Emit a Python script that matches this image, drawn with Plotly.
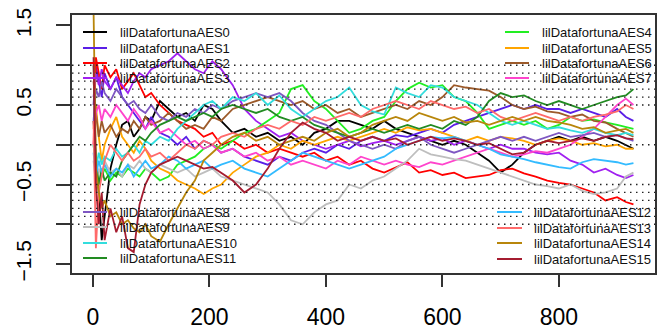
import plotly.graph_objects as go

# shared x positions (observation index)
x_index = [1, 5, 10, 15, 20, 30, 40, 50, 60, 70, 80, 90, 100, 115, 130, 145, 160, 175, 190, 205,
           220, 240, 260, 280, 300, 320, 340, 360, 380, 400, 420, 440, 460, 480, 500, 520, 540,
           560, 580, 600, 620, 640, 660, 680, 700, 720, 740, 760, 780, 800, 820, 840, 860, 880,
           900, 915, 928]

series_names = ["lilDatafortunaAES%d" % i for i in range(16)]

aes0 = [0.3, -0.2, -0.6, -1.2, -0.9, -0.3, 0.0, 0.25, 0.3, 0.1, 0.2, 0.35, 0.3, 0.55, 0.45, 0.35, 0.4, 0.3, 0.5, 0.45,
        0.3, 0.15, 0.2, 0.1, 0.15, 0.05, 0.1, 0.0, 0.15, 0.2, 0.3, 0.3, 0.25, 0.2, 0.3, 0.2, 0.15,
        0.1, 0.05, 0.0, 0.05, 0.0, -0.1, -0.2, -0.35, -0.25, -0.1, 0.0, 0.05, 0.1, 0.05, 0.1, 0.05, 0.1,
        0.05, 0.0, -0.05]
aes1 = [0.5, 1.0, 0.8, 0.6, 0.9, 0.7, 0.85, 0.6, 0.5, 0.4, 0.3, 0.2, 0.35, 0.15, 0.1, 0.0, 0.1, -0.05, 0.05, 0.0,
        -0.1, -0.05, -0.15, -0.2, -0.25, -0.15, -0.2, -0.1, -0.05, -0.1, 0.0, -0.05, 0.05, 0.1, 0.05, 0.12, 0.1,
        0.15, 0.2, 0.15, 0.25, 0.3, 0.35, 0.4, 0.45, 0.5, 0.45, 0.5, 0.45, 0.45, 0.4, 0.45, 0.4, 0.35,
        0.45, 0.35, 0.3]
aes2 = [0.0, 1.1, 0.9, 0.7, 1.0, 0.85, 0.95, 0.7, 0.8, 0.9, 0.75, 0.6, 0.65, 0.5, 0.4, 0.3, 0.25, 0.2, 0.1, 0.15,
        0.0, 0.05, -0.05, 0.0, -0.1, -0.05, -0.1, -0.15, -0.1, -0.2, -0.15, -0.25, -0.2, -0.3, -0.35, -0.28, -0.22,
        -0.35, -0.32, -0.38, -0.35, -0.42, -0.4, -0.38, -0.32, -0.3, -0.36, -0.4, -0.45, -0.48, -0.5, -0.55, -0.6, -0.7,
        -0.66, -0.72, -0.75]
aes3 = [0.6, 0.9, 0.75, 0.95, 0.8, 0.7, 0.85, 0.75, 0.65, 0.8, 0.9, 0.85, 0.95, 1.0, 1.05, 1.15, 1.05, 0.95, 0.9, 1.05,
        0.95, 0.75, 0.45, 0.3, 0.2, 0.1, 0.15, 0.05, 0.0, -0.05, 0.0, 0.05, -0.02, 0.02, 0.05, 0.0, 0.05,
        0.1, 0.05, 0.08, 0.0, 0.05, 0.0, -0.05, 0.0, -0.05, -0.05, -0.1, -0.12, -0.1, -0.2, -0.25, -0.35, -0.3,
        -0.38, -0.42, -0.38]
aes4 = [0.0, -0.3, -0.5, -0.4, -0.3, -0.45, -0.35, -0.4, -0.3, -0.35, -0.4, -0.3, -0.35, -0.45, -0.4, -0.25, -0.2, -0.15, -0.05, 0.0,
        -0.05, 0.05, 0.15, 0.2, 0.3, 0.4, 0.7, 0.75, 0.55, 0.45, 0.3, 0.15, 0.2, 0.3, 0.35, 0.55, 0.7,
        0.78, 0.72, 0.75, 0.6, 0.55, 0.4, 0.2, 0.25, 0.3, 0.25, 0.3, 0.2, 0.25, 0.35, 0.3, 0.32, 0.28,
        0.25, 0.22, 0.2]
aes5 = [0.2, 0.5, 0.1, -0.2, 0.0, 0.2, 0.35, 0.1, 0.0, -0.1, 0.05, -0.05, -0.2, -0.3, -0.35, -0.45, -0.5, -0.55, -0.62, -0.55,
        -0.5, -0.35, -0.25, -0.15, -0.1, 0.0, -0.05, 0.05, 0.0, 0.05, 0.1, 0.05, 0.1, 0.15, 0.2, 0.15, 0.22,
        0.18, 0.2, 0.15, 0.1, 0.05, 0.1, 0.05, 0.1, 0.08, 0.05, 0.0, 0.05, 0.08, 0.05, 0.0, 0.02, -0.02,
        0.0, -0.05, -0.05]
aes6 = [0.8, 0.4, 0.1, 0.3, 0.15, 0.25, 0.1, 0.2, 0.15, 0.3, 0.2, 0.35, 0.25, 0.3, 0.4, 0.3, 0.2, 0.25, 0.2, 0.35,
        0.3, 0.45, 0.5, 0.55, 0.6, 0.55, 0.5, 0.55, 0.45, 0.5, 0.4, 0.45, 0.35, 0.4, 0.45, 0.5, 0.45,
        0.55, 0.5, 0.6, 0.75, 0.72, 0.7, 0.68, 0.6, 0.5, 0.45, 0.48, 0.42, 0.4, 0.35, 0.38, 0.3, 0.28,
        0.2, 0.15, 0.1]
aes7 = [0.0, 0.4, 0.5, 0.3, 0.45, 0.35, 0.5, 0.4, 0.3, 0.45, 0.35, 0.2, 0.3, 0.15, 0.2, 0.1, 0.0, 0.05, -0.05, 0.0,
        -0.1, -0.05, -0.15, -0.1, -0.2, -0.15, -0.25, -0.2, -0.25, -0.3, -0.2, -0.25, -0.15, -0.2, -0.25, -0.2, -0.25,
        -0.28, -0.22, -0.25, -0.2, -0.15, -0.1, -0.05, -0.1, -0.15, -0.12, -0.08, -0.1, -0.05, 0.0, 0.1, 0.2, 0.35,
        0.5, 0.58, 0.5]
aes8 = [0.3, 0.7, 0.6, 0.8, 0.65, 0.55, 0.7, 0.6, 0.5, 0.55, 0.45, 0.4, 0.5, 0.35, 0.3, 0.4, 0.35, 0.45, 0.4, 0.5,
        0.45, 0.55, 0.6, 0.65, 0.6, 0.65, 0.55, 0.4, 0.3, 0.25, 0.15, 0.05, 0.0, -0.05, 0.0, -0.05, 0.05,
        0.1, 0.0, -0.05, -0.1, -0.05, 0.0, 0.05, 0.1, 0.05, 0.1, 0.05, 0.1, 0.15, 0.1, 0.12, 0.15, 0.1,
        0.12, 0.08, 0.05]
aes9 = [-0.2, -0.5, -0.3, -0.4, -0.2, -0.35, -0.3, -0.4, -0.25, -0.3, -0.2, -0.3, -0.35, -0.25, -0.3, -0.35, -0.3, -0.4, -0.35, -0.3,
        -0.4, -0.45, -0.5, -0.55, -0.6, -0.75, -0.95, -1.0, -0.85, -0.75, -0.7, -0.5, -0.55, -0.45, -0.4, -0.3, -0.2,
        -0.05, -0.12, -0.15, -0.18, -0.2, -0.25, -0.3, -0.35, -0.4, -0.45, -0.5, -0.52, -0.55, -0.5, -0.58, -0.62, -0.6,
        -0.55, -0.4, -0.35]
aes10 = [0.0, -0.3, -0.1, -0.25, -0.15, -0.2, -0.05, -0.15, -0.1, 0.0, -0.1, 0.05, 0.0, 0.1, 0.05, 0.2, 0.3, 0.4, 0.5, 0.55,
         0.45, 0.6, 0.55, 0.65, 0.5, 0.62, 0.45, 0.35, 0.45, 0.55, 0.6, 0.72, 0.5, 0.42, 0.38, 0.72, 0.65,
         0.6, 0.75, 0.72, 0.6, 0.55, 0.5, 0.4, 0.3, 0.25, 0.3, 0.25, 0.2, 0.22, 0.18, 0.15, 0.2, 0.15,
         0.12, 0.15, 0.12]
aes11 = [1.0, -0.2, -0.5, -0.3, -0.45, -0.35, -0.4, -0.2, -0.1, 0.0, 0.1, 0.05, 0.15, 0.25, 0.3, 0.35, 0.3, 0.35, 0.4, 0.35,
         0.45, 0.5, 0.45, 0.4, 0.45, 0.35, 0.3, 0.35, 0.25, 0.2, 0.15, 0.1, 0.15, 0.2, 0.15, 0.2, 0.25,
         0.2, 0.25, 0.2, 0.3, 0.25, 0.35, 0.55, 0.65, 0.6, 0.62, 0.55, 0.5, 0.55, 0.5, 0.45, 0.5, 0.55,
         0.6, 0.62, 0.7]
aes12 = [-0.1, -0.4, -0.2, -0.35, -0.25, -0.4, -0.3, -0.35, -0.25, -0.4, -0.3, -0.2, -0.3, -0.25, -0.15, -0.2, -0.3, -0.25, -0.2, -0.3,
         -0.25, -0.2, -0.3, -0.35, -0.4, -0.3, -0.2, -0.1, -0.15, -0.2, -0.25, -0.3, -0.25, -0.2, -0.15, -0.05, 0.0,
         0.05, 0.1, 0.08, 0.1, 0.05, 0.0, -0.05, -0.12, -0.15, -0.18, -0.22, -0.25, -0.28, -0.3, -0.22, -0.18, -0.2,
         -0.22, -0.25, -0.23]
aes13 = [0.3, -1.3, -0.6, -0.4, -0.2, 0.0, -0.1, -0.2, -0.1, -0.2, -0.15, -0.05, -0.15, -0.1, -0.2, -0.1, 0.0, -0.05, 0.05, 0.0,
         0.1, 0.15, 0.1, 0.2, 0.25, 0.2, 0.3, 0.25, 0.35, 0.3, 0.35, 0.4, 0.35, 0.45, 0.5, 0.55, 0.5,
         0.45, 0.55, 0.5, 0.45, 0.48, 0.4, 0.45, 0.35, 0.3, 0.35, 0.4, 0.35, 0.3, 0.35, 0.3, 0.35, 0.38,
         0.42, 0.5, 0.45]
aes14 = [1.7, -0.3, -0.6, -0.8, -0.7, -0.9, -0.85, -1.0, -0.95, -1.05, -1.1, -1.0, -1.15, -1.22, -1.0, -0.8, -0.6, -0.45, -0.2, -0.1,
         0.0, 0.1, 0.15, 0.05, 0.1, 0.0, 0.05, 0.1, 0.05, 0.15, 0.2, 0.1, 0.15, 0.25, 0.3, 0.35, 0.3,
         0.4, 0.35, 0.3, 0.35, 0.28, 0.3, 0.25, 0.3, 0.35, 0.3, 0.35, 0.3, 0.28, 0.25, 0.2, 0.22, 0.15,
         0.18, 0.2, 0.15]
aes15 = [1.1, -0.5, -1.0, -0.6, -1.2, -0.8, -1.1, -0.9, -1.3, -1.35, -0.75, -0.5, -0.35, -0.25, -0.2, -0.15, -0.2, -0.25, -0.3, -0.28,
         -0.35, -0.45, -0.6, -0.5, -0.3, -0.05, 0.15, 0.28, 0.2, 0.15, 0.05, 0.1, 0.05, 0.1, 0.05, 0.08, 0.0,
         0.05, 0.1, 0.05, 0.08, 0.05, 0.0, 0.02, -0.05, -0.12, -0.1, 0.0, 0.05, 0.02, 0.05, 0.08, 0.05, 0.1,
         0.12, 0.08, 0.07]

all_series = [aes0, aes1, aes2, aes3, aes4, aes5, aes6, aes7,
              aes8, aes9, aes10, aes11, aes12, aes13, aes14, aes15]

colors = ["#000000", "#5A1EE6", "#FF0000", "#A020F0", "#22EE22", "#FFA500", "#9C5A2A", "#FF44CC",
          "#7E57C2", "#BEBEBE", "#33DDDD", "#228B22", "#33BBFF", "#FF6A6A", "#B8860B", "#A51C30"]

ref_levels = [1.0, 0.9, 0.8, 0.7, 0.6, 0.5, 0.0, -0.5, -0.6, -0.7, -0.8, -0.9, -1.0]

y_tickvals = [-1.5, -1.0, -0.5, 0.0, 0.5, 1.0, 1.5]
y_ticktext = ["\u22121.5", "", "\u22120.5", "", "0.5", "", "1.5"]
x_tickvals = [0, 200, 400, 600, 800]

# page has an 8px body margin, so the figure is offset by (8, 8) inside the window
OFF = 8
W, H = 667 - OFF, 332 - OFF
L, R, T, B = 72 - OFF, 655 - OFF, 15 - OFF, 273 - OFF

fig = go.Figure()
for name, ys, c in zip(series_names, all_series, colors):
    fig.add_trace(go.Scatter(x=x_index, y=ys, mode="lines", name=name,
                             line=dict(color=c, width=1.8), showlegend=False))

shapes = []
for lv in ref_levels:
    shapes.append(dict(type="line", xref="paper", yref="y", x0=0, x1=1, y0=lv, y1=lv,
                       line=dict(color="#222222", width=1.3, dash="1.5px,4.5px"), layer="above"))

def px2paper(px, py):
    px -= OFF
    py -= OFF
    return (px - L) / (R - L), (B - py) / (B - T)

annotations = []
legend_groups = [
    (range(0, 4), 83, 107, 118, [32, 48, 63, 78]),
    (range(4, 8), 505, 529, 540, [32, 48, 63, 78]),
    (range(8, 12), 83, 107, 118, [212, 227, 243, 258]),
    (range(12, 16), 497, 522, 532, [212, 228, 243, 259]),
]
for idxs, lx0, lx1, tx, rows in legend_groups:
    for i, py in zip(idxs, rows):
        a0, b0 = px2paper(lx0, py)
        a1, _ = px2paper(lx1, py)
        shapes.append(dict(type="line", xref="paper", yref="paper", x0=a0, x1=a1, y0=b0, y1=b0,
                           line=dict(color=colors[i], width=2), layer="above"))
        at, bt = px2paper(tx, py)
        annotations.append(dict(xref="paper", yref="paper", x=at, y=bt, xanchor="left", yanchor="middle",
                                text=series_names[i], showarrow=False,
                                font=dict(family="Liberation Sans, Arial, sans-serif", size=13, color="#111111")))

fig.update_layout(
    width=W, height=H,
    margin=dict(l=L, r=W - R, t=T, b=H - B, pad=0, autoexpand=False),
    paper_bgcolor="white", plot_bgcolor="white",
    shapes=shapes, annotations=annotations,
    showlegend=False,
    font=dict(family="Liberation Sans, Arial, sans-serif", color="black"),
)
fig.update_xaxes(range=[-36, 965], tickvals=x_tickvals, ticks="outside", ticklen=12, tickwidth=1.5,
                 tickcolor="#333333", showgrid=False, zeroline=False, showline=True, mirror=True,
                 linecolor="#333333", linewidth=1.6, tickfont=dict(size=23), ticklabelstandoff=11,
                 automargin=False, ticklabeloverflow="allow")
fig.update_yaxes(range=[-1.613, 1.632], tickvals=y_tickvals, ticktext=y_ticktext, ticks="outside",
                 ticklen=14, tickwidth=1.5, tickcolor="#333333", showgrid=False, zeroline=False,
                 showline=True, mirror=True, linecolor="#333333", linewidth=1.6,
                 tickfont=dict(size=21), tickangle=-90, ticklabelstandoff=17, automargin=False,
                 ticklabeloverflow="allow")

fig.write_html("out.html")
